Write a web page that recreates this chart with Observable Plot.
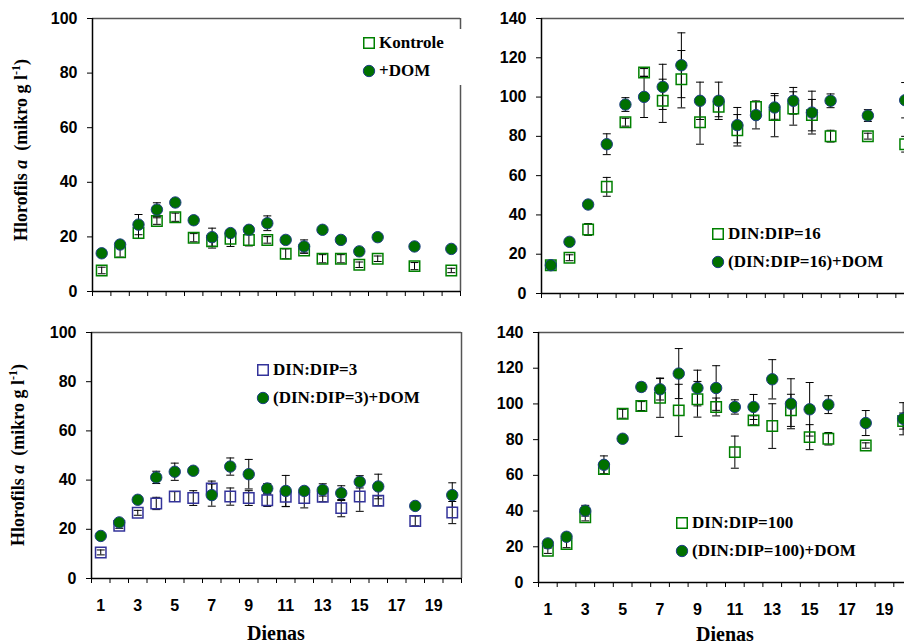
<!DOCTYPE html>
<html>
<head>
<meta charset="utf-8">
<script src="https://cdn.jsdelivr.net/npm/d3@7"></script>
<script src="https://cdn.jsdelivr.net/npm/@observablehq/plot@0.6"></script>
<style>
  body { margin: 0; background: #fff; }
  #chart { position: relative; width: 904px; height: 644px; overflow: hidden; background: #fff; }
  .panel { position: absolute; }
  .panel svg { max-width: none !important; }
  .legend { position: absolute; background: #fff; font-family: "Liberation Serif", "Times New Roman", serif; font-weight: bold; font-size: 17px; color: #000; }
  .legend .row { display: flex; align-items: center; height: 28px; white-space: nowrap; }
  .legend svg { margin-right: 3px; flex: none; }
</style>
</head>
<body>
<div id="chart"></div>
<script>
// ---- data ----
const days = [1, 2, 3, 4, 5, 6, 7, 8, 9, 10, 11, 12, 13, 14, 15, 16, 18, 20];
const dayLabels = [1, 3, 5, 7, 9, 11, 13, 15, 17, 19];
const yTicks100 = [0, 20, 40, 60, 80, 100];
const yTicks140 = [0, 20, 40, 60, 80, 100, 120, 140];

const kontrole    = [7.7, 14.4, 21.4, 25.8, 27.2, 19.7, 18.4, 19.3, 18.9, 18.9, 13.8, 15.0, 12.0, 12.0, 9.8, 12.0, 9.3, 7.7];
const kontroleErr = [1.2, 1.8, 2.0, 1.2, 1.5, 1.5, 2.5, 2.8, 2.2, 1.2, 1.8, 1.0, 1.5, 1.5, 1.0, 1.0, 1.3, 0.8];
const dom         = [14.0, 17.2, 24.5, 30.0, 32.6, 26.1, 19.9, 21.4, 22.6, 25.0, 18.9, 16.5, 22.6, 18.9, 14.7, 19.9, 16.5, 15.6];
const domErr      = [0.8, 1.2, 3.7, 2.5, 1.0, 1.0, 3.3, 1.2, 1.2, 2.7, 1.0, 2.4, 1.0, 1.0, 1.0, 1.0, 1.0, 1.0];

const dip16       = [14.4, 18.2, 32.6, 54.3, 87.2, 112.5, 98.1, 109.1, 87.2, 95.0, 83.1, 95.0, 90.8, 94.2, 90.8, 80.1, 80.1, 76.0];
const dip16Err    = [1.0, 1.5, 3.0, 4.8, 2.0, 2.0, 11.0, 14.6, 11.2, 5.0, 8.0, 3.0, 11.0, 8.5, 8.0, 3.0, 1.5, 4.0];
const dip16Dom    = [14.4, 26.3, 45.3, 76.0, 96.2, 100.1, 105.2, 116.2, 98.1, 98.1, 85.7, 90.8, 94.7, 98.1, 92.1, 98.1, 90.6, 98.4];
const dip16DomErr = [1.0, 1.0, 1.0, 5.3, 3.5, 10.5, 11.5, 16.5, 9.5, 9.5, 9.0, 7.0, 6.0, 6.8, 10.9, 3.5, 3.0, 9.0];

const dip3        = [10.6, 21.4, 26.7, 30.5, 33.3, 32.7, 36.6, 33.3, 32.7, 31.8, 33.2, 32.7, 33.2, 28.6, 33.3, 31.6, 23.4, 26.8];
const dip3Err     = [1.0, 1.0, 1.0, 2.5, 2.0, 3.0, 3.0, 3.5, 3.0, 2.5, 4.0, 4.0, 2.0, 3.5, 6.0, 2.0, 2.0, 4.5];
const dip3Dom     = [17.3, 22.8, 32.0, 41.1, 43.4, 43.8, 33.9, 45.5, 42.4, 36.6, 35.6, 35.6, 36.0, 34.7, 39.3, 37.4, 29.5, 33.9];
const dip3DomErr  = [1.0, 1.0, 1.0, 2.5, 3.5, 1.0, 4.5, 3.5, 6.0, 2.0, 6.3, 1.5, 2.5, 3.0, 2.5, 5.0, 1.0, 5.0];

const dip100       = [17.8, 21.5, 36.5, 63.6, 94.5, 98.8, 103.5, 96.4, 102.6, 98.3, 73.0, 90.8, 87.6, 96.4, 81.4, 80.5, 76.7, 90.4];
const dip100Err    = [1.5, 2.0, 2.0, 3.0, 2.5, 2.5, 11.0, 14.6, 10.0, 5.0, 9.0, 2.5, 12.5, 9.0, 7.0, 3.5, 1.5, 4.5];
const dip100Dom    = [21.9, 25.6, 40.2, 65.9, 80.5, 109.5, 108.2, 117.0, 108.9, 108.9, 98.3, 98.3, 113.8, 100.1, 97.0, 99.6, 89.3, 91.7];
const dip100DomErr = [2.0, 2.0, 3.0, 5.0, 1.5, 2.5, 6.0, 14.0, 10.0, 12.5, 4.0, 7.0, 11.0, 14.0, 15.0, 5.0, 7.0, 9.0];

const GREEN = "#008000";
const DOTFILL = "#007000";
const DOTEDGE = "#1f3f85";
const NAVY = "#33339a";

const capSymbol = {
  draw(ctx, size) {
    const w = Math.sqrt(size / Math.PI);
    ctx.moveTo(-w, 0);
    ctx.lineTo(w, 0);
  }
};

const rows = (vals, errs) => days.map((d, i) => ({day: d, v: vals[i], e: errs[i]}));

function errMarks(data) {
  return [
    Plot.ruleX(data, {x: "day", y1: d => d.v - d.e, y2: d => d.v + d.e, stroke: "#000", strokeWidth: 1}),
    Plot.dot(data, {x: "day", y: d => d.v + d.e, symbol: capSymbol, r: 4, stroke: "#000", strokeWidth: 1}),
    Plot.dot(data, {x: "day", y: d => d.v - d.e, symbol: capSymbol, r: 4, stroke: "#000", strokeWidth: 1})
  ];
}

const chart = document.getElementById("chart");
const SANS = "'Liberation Sans', Arial, sans-serif";
const SERIF = "'Liberation Serif', 'Times New Roman', serif";

function panel(o) {
  const sq = rows(o.sq, o.sqErr);
  const ci = rows(o.ci, o.ciErr);
  const bounds = d3.range(0, 21).map(i => i + 0.5);
  const marks = [
    Plot.ruleY([o.yMax], {stroke: "#555", strokeWidth: 1.5}),
    Plot.ruleX([20.5], {stroke: "#555", strokeWidth: 1.5}),
    Plot.axisY({ticks: o.yTicks, tickSize: 5, tickPadding: 10, stroke: "#000", label: null,
                fontSize: 16, fontWeight: "bold", fontFamily: SANS, fill: "#000"}),
    Plot.axisX({ticks: bounds, tickSize: 5, tickFormat: () => "", stroke: "#000", label: null}),
    Plot.ruleX([0.5], {stroke: "#000", strokeWidth: 1.5}),
    Plot.ruleY([0], {stroke: "#000", strokeWidth: 1.5}),
    ...errMarks(sq),
    ...errMarks(ci),
    Plot.dot(sq, {x: "day", y: "v", symbol: "square", r: 5.9, stroke: o.sqColor, strokeWidth: 1.5, fill: "none"}),
    Plot.dot(ci, {x: "day", y: "v", r: 5.7, fill: DOTFILL, stroke: DOTEDGE, strokeWidth: 1})
  ];
  if (o.xLabels) {
    marks.push(Plot.axisX({ticks: dayLabels, tickSize: 0, tickPadding: 21, tickFormat: d => String(d), label: null,
                           fontSize: 16, fontWeight: "bold", fontFamily: SANS, fill: "#000"}));
  }
  const svg = Plot.plot({
    width: o.width, height: o.height,
    marginLeft: o.mL, marginRight: o.mR, marginTop: o.mT, marginBottom: o.mB,
    x: {domain: [0.5, 20.5]},
    y: {domain: [0, o.yMax]},
    style: {fontFamily: SANS, fontSize: "16px", fontWeight: "bold", color: "#000", background: "transparent", overflow: "visible", maxWidth: "none"},
    marks
  });
  const s = d3.select(svg);
  if (o.yTitle) {
    const t = s.append("text")
      .attr("transform", `translate(${o.yTitle.x},${o.yTitle.y}) rotate(-90)`)
      .attr("text-anchor", "middle")
      .attr("font-family", SERIF)
      .attr("font-weight", "bold")
      .attr("font-size", "18px")
      .attr("fill", "#000");
    t.append("tspan").text("Hlorofils ");
    t.append("tspan").attr("font-style", "italic").text("a");
    t.append("tspan").text("  (mikro g l");
    t.append("tspan").attr("font-size", "12px").attr("dy", "-0.6em").text("-1");
    t.append("tspan").attr("dy", "0.4em").text(")");
  }
  if (o.xTitle) {
    s.append("text")
      .attr("x", o.mL + (o.xTitle.w) / 2)
      .attr("y", o.xTitle.y)
      .attr("text-anchor", "middle")
      .attr("font-family", SERIF)
      .attr("font-weight", "bold")
      .attr("font-size", "20px")
      .attr("fill", "#000")
      .text("Dienas");
  }
  const wrap = document.createElement("div");
  wrap.className = "panel";
  wrap.style.left = o.left + "px";
  wrap.style.top = o.top + "px";
  wrap.style.width = o.width + "px";
  wrap.style.height = o.height + "px";
  wrap.appendChild(svg);
  chart.appendChild(wrap);

  // legend
  const lg = document.createElement("div");
  lg.className = "legend";
  lg.style.left = o.legend.left + "px";
  lg.style.top = o.legend.top + "px";
  lg.style.width = o.legend.width + "px";
  lg.style.padding = "0 0 0 5px";
  lg.innerHTML =
    `<div class="row"><svg width="14" height="14"><rect x="1.75" y="1.75" width="10.5" height="10.5" fill="none" stroke="${o.sqColor}" stroke-width="1.5"/></svg><span>${o.legend.labels[0]}</span></div>` +
    `<div class="row"><svg width="14" height="14"><circle cx="7" cy="7" r="5.7" fill="${DOTFILL}" stroke="${DOTEDGE}" stroke-width="1"/></svg><span>${o.legend.labels[1]}</span></div>`;
  chart.appendChild(lg);
}

panel({
  left: 0, top: 0, width: 470, height: 300, mL: 92, mR: 10, mT: 18, mB: 9,
  yMax: 100, yTicks: yTicks100, sq: kontrole, sqErr: kontroleErr, ci: dom, ciErr: domErr,
  sqColor: GREEN, xLabels: false, yTitle: {x: 27, y: 150},
  legend: {left: 357, top: 29, width: 100, labels: ["Kontrole", "+DOM"]}
});
panel({
  left: 460, top: 0, width: 454, height: 303, mL: 81, mR: 0, mT: 18, mB: 10,
  yMax: 140, yTicks: yTicks140, sq: dip16, sqErr: dip16Err, ci: dip16Dom, ciErr: dip16DomErr,
  sqColor: GREEN, xLabels: false,
  legend: {left: 706, top: 220, width: 180, labels: ["DIN:DIP=16", "(DIN:DIP=16)+DOM"]}
});
panel({
  left: 0, top: 310, width: 471, height: 334, mL: 91, mR: 10, mT: 22, mB: 66,
  yMax: 100, yTicks: yTicks100, sq: dip3, sqErr: dip3Err, ci: dip3Dom, ciErr: dip3DomErr,
  sqColor: NAVY, xLabels: true, yTitle: {x: 24, y: 145}, xTitle: {w: 370, y: 330},
  legend: {left: 251, top: 356, width: 175, labels: ["DIN:DIP=3", "(DIN:DIP=3)+DOM"]}
});
panel({
  left: 460, top: 310, width: 452, height: 334, mL: 78, mR: 0, mT: 22, mB: 62,
  yMax: 140, yTicks: yTicks140, sq: dip100, sqErr: dip100Err, ci: dip100Dom, ciErr: dip100DomErr,
  sqColor: GREEN, xLabels: true, xTitle: {w: 374, y: 331},
  legend: {left: 670, top: 509, width: 190, labels: ["DIN:DIP=100", "(DIN:DIP=100)+DOM"]}
});
</script>
</body>
</html>
